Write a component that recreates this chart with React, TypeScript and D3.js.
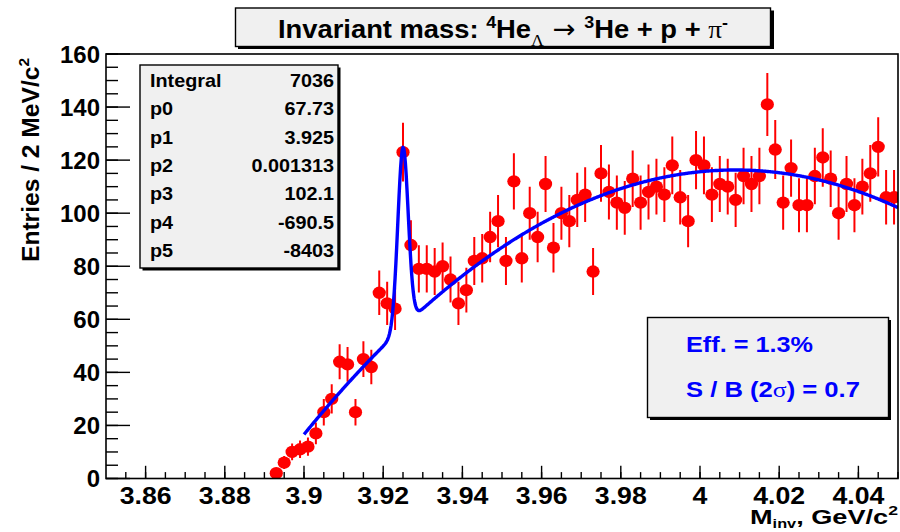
import React from "react";
import * as d3 from "d3";

// Histogram: 2 MeV bins starting at 3.85 GeV; first filled bin index 21
const binLow = 3.85;
const binWidth = 0.002;
const firstBin = 21;
const counts = [
  2, 6, 10, 11, 12, 17, 25, 30, 44, 43, 25, 45, 42,
  70, 66, 64, 123, 88, 79, 79, 78, 80,
  75, 66, 71, 82, 83, 91, 97, 82, 112, 83,
  100, 91, 111, 87, 100, 97, 105, 107, 78, 115,
  108, 104, 102, 113, 104, 108, 110, 107, 118, 106,
  97, 120, 118, 107, 111, 110, 105, 114, 111, 114,
  141, 124, 104, 117, 103, 103, 114, 121, 113, 100,
  111, 103, 110, 115, 125, 106, 106,
];

// Fit: gaus(p0,p1,p2) + pol2(p3,p4,p5) in (x - 4.05)
const fitParams = [67.73, 3.925, 0.001313, 102.1, -690.5, -8403];
const fitRange = [3.9, 4.05];
const polOrigin = 4.05;

const statLabels = ["Integral", "p0", "p1", "p2", "p3", "p4", "p5"];
const statValues = ["7036", "67.73", "3.925", "0.001313", "102.1", "-690.5", "-8403"];

const xTicks = [3.86, 3.88, 3.9, 3.92, 3.94, 3.96, 3.98, 4.0, 4.02, 4.04];
const xTickLabels = ["3.86", "3.88", "3.9", "3.92", "3.94", "3.96", "3.98", "4", "4.02", "4.04"];
const yTicks = [0, 20, 40, 60, 80, 100, 120, 140, 160];

const infoLines = ["Eff. = 1.3%", "S / B (2", ") = 0.7"];

const W = 900;
const H = 532;
const left = 106, right = 898, top = 54, bottom = 478.5;

const FONT = "'Liberation Sans', Arial, Helvetica, sans-serif";
const SYM = "'Liberation Serif', 'DejaVu Serif', serif";

export default function App() {
  const x = d3.scaleLinear().domain([3.85, 4.05]).range([left, right]);
  const y = d3.scaleLinear().domain([0, 160]).range([bottom, top]);

  const points = counts.map((n, i) => ({
    m: binLow + binWidth * (firstBin + i + 0.5),
    n,
    e: Math.sqrt(n),
  }));

  const [p0, p1, p2, p3, p4, p5] = fitParams;
  const fitFn = (m: number) => {
    const d = m - polOrigin;
    return p0 * Math.exp(-0.5 * ((m - p1) / p2) ** 2) + p3 + p4 * d + p5 * d * d;
  };
  const fitXs = d3.range(fitRange[0], fitRange[1] + 1e-9, 0.0002);
  const fitLine = d3
    .line<number>()
    .x((m) => x(m))
    .y((m) => y(fitFn(m)));

  const xMinor = d3.range(3.855, 4.0501, 0.005);
  const yMinor = d3.range(0, 160.01, 5);

  const statBaseline = (i: number) => 87 + 28.3 * i;

  return (
    <svg
      width={W}
      height={H}
      style={{ position: "absolute", left: 0, top: 0, background: "#fff" }}
      fontFamily={FONT}
    >
      <defs>
        <clipPath id="frame">
          <rect x={left} y={top} width={right - left} height={bottom - top} />
        </clipPath>
      </defs>
      <rect width={W} height={H} fill="#fff" />

      {/* data points with Poisson errors */}
      <g clipPath="url(#frame)">
        {points.map((p, i) => (
          <line
            key={"e" + i}
            x1={x(p.m)}
            x2={x(p.m)}
            y1={y(p.n - p.e)}
            y2={y(p.n + p.e)}
            stroke="#ff0000"
            strokeWidth={2}
          />
        ))}
        {points.map((p, i) => (
          <ellipse key={"m" + i} cx={x(p.m)} cy={y(p.n)} rx={6.6} ry={6.2} fill="#ff0000" />
        ))}
        <path d={fitLine(fitXs) || ""} fill="none" stroke="#0000ff" strokeWidth={3.4} strokeLinejoin="round" />
      </g>

      {/* frame */}
      <rect x={left} y={top} width={right - left} height={bottom - top} fill="none" stroke="#000" strokeWidth={1.6} />

      {/* x ticks */}
      {xMinor.map((v, i) => (
        <line key={"xm" + i} x1={x(v)} x2={x(v)} y1={bottom} y2={bottom - 6.4} stroke="#000" strokeWidth={1.4} />
      ))}
      {xTicks.map((v, i) => (
        <line key={"xM" + i} x1={x(v)} x2={x(v)} y1={bottom} y2={bottom - 12.7} stroke="#000" strokeWidth={1.4} />
      ))}
      {xTicks.map((v, i) => (
        <text
          key={"xl" + i}
          transform={`translate(${x(v)},503.5) scale(1.16,1)`}
          textAnchor="middle"
          fontSize={23}
          fontWeight="bold"
        >
          {xTickLabels[i]}
        </text>
      ))}

      {/* y ticks */}
      {yMinor.map((v, i) => (
        <line key={"ym" + i} x1={left} x2={left + 12} y1={y(v)} y2={y(v)} stroke="#000" strokeWidth={1.4} />
      ))}
      {yTicks.map((v, i) => (
        <line key={"yM" + i} x1={left} x2={left + 24} y1={y(v)} y2={y(v)} stroke="#000" strokeWidth={1.4} />
      ))}
      {yTicks.map((v, i) => (
        <text key={"yl" + i} x={100} y={y(v) + 8.8} textAnchor="end" fontSize={24} fontWeight="bold">
          {v}
        </text>
      ))}

      {/* axis titles */}
      <text
        transform="translate(38.5,160) rotate(-90)"
        textAnchor="middle"
        fontSize={24}
        fontWeight="bold"
        textLength={204}
        lengthAdjust="spacingAndGlyphs"
      >
        Entries / 2 MeV/c
        <tspan fontSize={15} dy={-10}>2</tspan>
      </text>
      <text x={750} y={523.5} fontSize={20} fontWeight="bold" textLength={148} lengthAdjust="spacingAndGlyphs">
        M
        <tspan fontSize={12} dy={4.5}>inv</tspan>
        <tspan dy={-4.5}>, GeV/c</tspan>
        <tspan fontSize={13} dy={-9}>2</tspan>
      </text>

      {/* title box */}
      <rect x={238} y={10.5} width={536} height={38.5} fill="#000" />
      <rect x={235.5} y={8} width={535} height={38.5} fill="#f0f0f0" stroke="#000" strokeWidth={1.4} />
      <text x={278} y={37.6} fontSize={26} fontWeight="bold" textLength={450} lengthAdjust="spacingAndGlyphs">
        {"Invariant mass: "}
        <tspan fontSize={17} dy={-10}>4</tspan>
        <tspan dy={10}>He</tspan>
        <tspan fontSize={17} fontWeight="normal" fontFamily={SYM} dy={8}>Λ</tspan>
        <tspan fontWeight="normal" fontFamily="'DejaVu Sans', sans-serif" fontSize={26} dy={-8}>{" → "}</tspan>
        <tspan fontSize={17} dy={-10}>3</tspan>
        <tspan dy={10}>{"He + p + "}</tspan>
        <tspan fontWeight="normal" fontFamily={SYM}>π</tspan>
        <tspan fontSize={17} dy={-10}>-</tspan>
      </text>

      {/* fit statistics box */}
      <rect x={142.5} y={67.5} width={198} height={203} fill="#000" />
      <rect x={140} y={65} width={198} height={203} fill="#f0f0f0" stroke="#000" strokeWidth={1.4} />
      {statLabels.map((s, i) => (
        <text
          key={"sl" + i}
          transform={`translate(150,${statBaseline(i)}) scale(1.1,1)`}
          fontSize={18}
          fontWeight="bold"
        >
          {s}
        </text>
      ))}
      {statValues.map((s, i) => (
        <text
          key={"sv" + i}
          transform={`translate(334,${statBaseline(i)}) scale(1.1,1)`}
          textAnchor="end"
          fontSize={18}
          fontWeight="bold"
        >
          {s}
        </text>
      ))}

      {/* efficiency box */}
      <rect x={650} y={320} width={241} height={100} fill="#000" />
      <rect x={647.5} y={317.5} width={241} height={100} fill="#f0f0f0" stroke="#000" strokeWidth={1.4} />
      <text x={686} y={352} fontSize={22} fontWeight="bold" fill="#0000ff" textLength={127} lengthAdjust="spacingAndGlyphs">
        {infoLines[0]}
      </text>
      <text x={686} y={397} fontSize={22} fontWeight="bold" fill="#0000ff" textLength={174} lengthAdjust="spacingAndGlyphs">
        {infoLines[1]}
        <tspan fontFamily={SYM} fontWeight="normal">σ</tspan>
        {infoLines[2]}
      </text>
    </svg>
  );
}
